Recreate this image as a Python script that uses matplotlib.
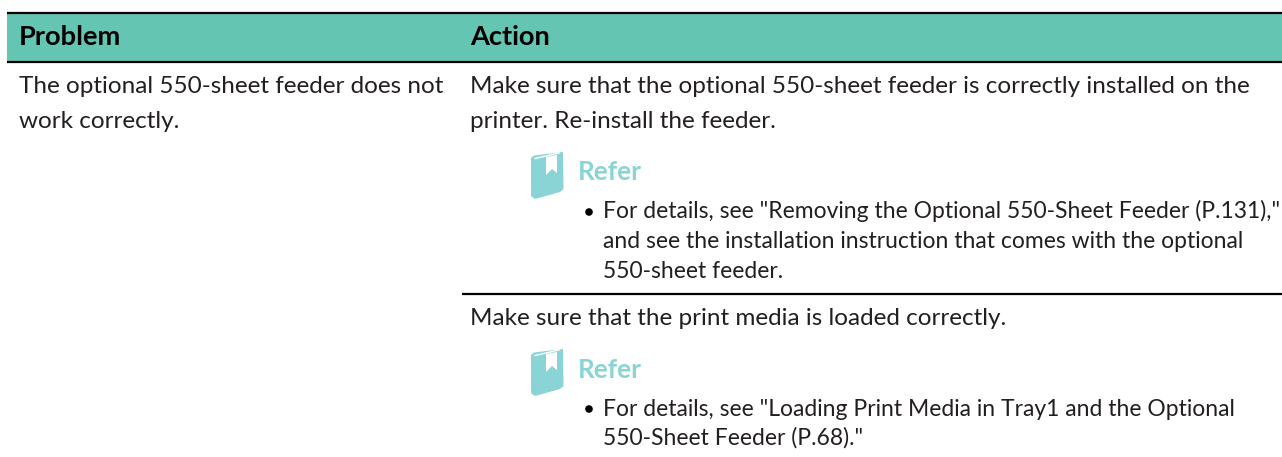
import matplotlib
matplotlib.use('Agg')
import matplotlib.pyplot as plt
from matplotlib.patches import Polygon, Rectangle, Circle

plt.rcParams['font.family'] = ['Lato', 'DejaVu Sans']

# Contenido de la tabla
headers = ['Problem', 'Action']
problem_lines = ['The optional 550-sheet feeder does not', 'work correctly.']
action1_lines = ['Make sure that the optional 550-sheet feeder is correctly installed on the',
                 'printer. Re-install the feeder.']
refer1_lines = ['For details, see "Removing the Optional 550-Sheet Feeder (P.131),"',
                'and see the installation instruction that comes with the optional',
                '550-sheet feeder.']
action2_lines = ['Make sure that the print media is loaded correctly.']
refer2_lines = ['For details, see "Loading Print Media in Tray1 and the Optional',
                '550-Sheet Feeder (P.68)."']
refer_label = 'Refer'

GREEN = '#65c5b3'
TEAL = '#8ad4d6'
TXT = '#231f20'

fig = plt.figure(figsize=(12.82, 4.57), dpi=100)
ax = fig.add_axes([0, 0, 1, 1])
ax.set_xlim(0, 1282)
ax.set_ylim(457, 0)
ax.axis('off')

# Cabecera
ax.add_patch(Rectangle((7, 12), 1275, 50, fc=GREEN, ec='none'))
ax.plot([7, 1282], [12.5, 12.5], color='black', lw=1.6, solid_capstyle='butt')
ax.plot([7, 1282], [62, 62], color='black', lw=1.6, solid_capstyle='butt')
ax.plot([462, 1282], [293.5, 293.5], color='black', lw=1.6, solid_capstyle='butt')

ax.text(19, 45, headers[0], fontsize=19.6, fontweight='bold', color='black', va='baseline')
ax.text(470, 45, headers[1], fontsize=19.6, fontweight='bold', color='black', va='baseline')


def draw_lines(lines, x, y0, step, fs):
    for i, s in enumerate(lines):
        ax.text(x, y0 + i * step, s, fontsize=fs, color=TXT, va='baseline')


def draw_refer(dy):
    # Icono del libro
    ax.add_patch(Polygon([(531, 158 + dy), (534, 155.5 + dy), (563, 152 + dy), (563.5, 189 + dy),
                          (560, 192 + dy), (535, 199 + dy), (531, 196 + dy)],
                         closed=True, fc=TEAL, ec='none'))
    ax.add_patch(Polygon([(546, 157 + dy), (557, 155 + dy), (557, 173 + dy), (552, 169 + dy),
                          (546, 175 + dy)], closed=True, fc='white', ec='none'))
    ax.plot([535, 559], [158.5 + dy, 153 + dy], color='white', lw=1)
    ax.text(578, 180.5 + dy, refer_label, fontsize=18.8, fontweight='bold', color=TEAL, va='baseline')


draw_lines(problem_lines, 19, 93, 35, 17.5)
draw_lines(action1_lines, 470, 93, 35, 17.5)
draw_refer(0)
ax.add_patch(Circle((589, 212), 3.8, fc='black', ec='none'))
draw_lines(refer1_lines, 603, 218.5, 29.5, 16.5)

draw_lines(action2_lines, 470, 325, 35, 17.5)
draw_refer(197)
ax.add_patch(Circle((589, 409), 3.8, fc='black', ec='none'))
draw_lines(refer2_lines, 603, 416, 29, 16.5)

fig.savefig('out.png', dpi=100)
